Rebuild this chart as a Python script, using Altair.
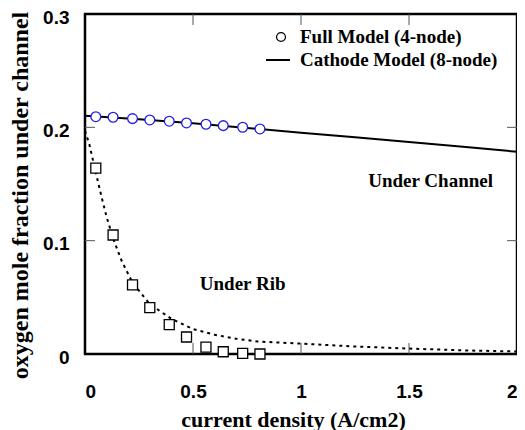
import altair as alt
import pandas as pd

# Full Model (4-node) under channel (circles)
full_x = [0.05, 0.13, 0.22, 0.30, 0.39, 0.47, 0.56, 0.64, 0.73, 0.81]
full_ch = [0.2094, 0.2089, 0.2077, 0.2065, 0.2054, 0.2039, 0.2027, 0.2015, 0.2001, 0.1986]
# Full Model (4-node) under rib (squares)
full_rib = [0.164, 0.105, 0.061, 0.041, 0.026, 0.015, 0.006, 0.002, 0.0005, 0.0]

# Cathode Model (8-node) under channel (solid)
cat_x = [0.0, 0.25, 0.5, 0.75, 1.0, 1.25, 1.5, 1.75, 2.0]
cat_ch = [0.2103, 0.2072, 0.2035, 0.1995, 0.1952, 0.1912, 0.1870, 0.1828, 0.1785]
# Cathode Model (8-node) under rib (dotted)
rib_x = [0.0, 0.02, 0.05, 0.08, 0.10, 0.13, 0.17, 0.22, 0.30, 0.40, 0.50, 0.60, 0.70,
         0.80, 1.0, 1.25, 1.5, 1.75, 2.0]
rib_y = [0.197, 0.185, 0.160, 0.136, 0.121, 0.102, 0.082, 0.063, 0.044, 0.031, 0.022,
         0.017, 0.0135, 0.011, 0.0092, 0.0066, 0.0048, 0.0032, 0.0022]

x_ticks = [0, 0.5, 1, 1.5, 2]
y_ticks = [0, 0.1, 0.2, 0.3]

W, H = 432, 340
SERIF = "Liberation Serif"
SANS = "Liberation Sans"

xs = alt.Scale(domain=[0, 2], nice=False)
ys = alt.Scale(domain=[0, 0.3], nice=False)

xaxis = alt.Axis(title="current density (A/cm2)", values=x_ticks, format="~g",
                 grid=False, ticks=False, domain=False, labelPadding=28,
                 labelFont=SANS, labelFontSize=19, labelFontWeight="bold", labelColor="black",
                 titleFont=SERIF, titleFontSize=22, titleFontWeight="bold", titleColor="black",
                 titlePadding=8, titleX=208)
yaxis = alt.Axis(title="oxygen mole fraction under channel", values=y_ticks, format="~g",
                 grid=False, ticks=False, domain=False, labelPadding=16, labelOffset=3,
                 labelFont=SANS, labelFontSize=19, labelFontWeight="bold", labelColor="black",
                 titleFont=SERIF, titleFontSize=24, titleFontWeight="bold", titleColor="black",
                 titlePadding=10, titleY=181)

df_full = pd.DataFrame({"x": full_x, "ch": full_ch, "rib": full_rib})
df_cat = pd.DataFrame({"x": cat_x, "y": cat_ch})
df_rib = pd.DataFrame({"x": rib_x, "y": rib_y})

line_ch = alt.Chart(df_cat).mark_line(color="black", strokeWidth=2).encode(
    x=alt.X("x:Q", scale=xs, axis=xaxis), y=alt.Y("y:Q", scale=ys, axis=yaxis))
line_rib = alt.Chart(df_rib).mark_line(color="black", strokeWidth=2, strokeDash=[3, 4]).encode(
    x=alt.X("x:Q", scale=xs), y=alt.Y("y:Q", scale=ys))
circles = alt.Chart(df_full).mark_point(shape="circle", size=95, filled=True, fill="white",
                                         stroke="#1f1fe6", strokeWidth=1.3, opacity=1).encode(
    x=alt.X("x:Q", scale=xs), y=alt.Y("ch:Q", scale=ys))
squares = alt.Chart(df_full).mark_point(shape="square", size=100, filled=True, fill="white",
                                         stroke="black", strokeWidth=1.3, opacity=1).encode(
    x=alt.X("x:Q", scale=xs), y=alt.Y("rib:Q", scale=ys))

# inward tick marks on all four sides
inner_x = pd.DataFrame({"t": [0.5, 1, 1.5]})
inner_y = pd.DataFrame({"t": [0.1, 0.2]})
tick_style = dict(color="#555555", strokeWidth=1)
tx_top = alt.Chart(inner_x).mark_rule(**tick_style).encode(
    x=alt.X("t:Q", scale=xs), y=alt.value(0), y2=alt.value(11))
tx_bot = alt.Chart(inner_x).mark_rule(**tick_style).encode(
    x=alt.X("t:Q", scale=xs), y=alt.value(H), y2=alt.value(H - 11))
ty_left = alt.Chart(inner_y).mark_rule(**tick_style).encode(
    y=alt.Y("t:Q", scale=ys), x=alt.value(0), x2=alt.value(10))
ty_right = alt.Chart(inner_y).mark_rule(**tick_style).encode(
    y=alt.Y("t:Q", scale=ys), x=alt.value(W), x2=alt.value(W - 10))

# annotations
ann = pd.DataFrame({"x": [1.60, 0.73], "y": [0.153, 0.062], "label": ["Under Channel", "Under Rib"]})
notes = alt.Chart(ann).mark_text(font=SERIF, fontSize=19, fontWeight="bold", color="black").encode(
    x=alt.X("x:Q", scale=xs), y=alt.Y("y:Q", scale=ys), text="label:N")

# legend
leg_text = pd.DataFrame({"label": ["Full Model (4-node)", "Cathode Model (8-node)"], "row": [0, 1]})
leg_t1 = alt.Chart(leg_text.iloc[[0]]).mark_text(font=SERIF, fontSize=19, fontWeight="bold",
                                                 align="left", baseline="middle", color="black").encode(
    x=alt.value(215), y=alt.value(23), text="label:N")
leg_t2 = alt.Chart(leg_text.iloc[[1]]).mark_text(font=SERIF, fontSize=19, fontWeight="bold",
                                                 align="left", baseline="middle", color="black").encode(
    x=alt.value(215), y=alt.value(46), text="label:N")
leg_c = alt.Chart(leg_text.iloc[[0]]).mark_point(shape="circle", size=80, stroke="black",
                                                  strokeWidth=1.2, opacity=1).encode(
    x=alt.value(196), y=alt.value(23))
leg_l = alt.Chart(leg_text.iloc[[1]]).mark_rule(color="black", strokeWidth=2).encode(
    x=alt.value(181), x2=alt.value(205), y=alt.value(46))

chart = alt.layer(tx_top, tx_bot, ty_left, ty_right, line_rib, line_ch, squares, circles,
                  notes, leg_c, leg_l, leg_t1, leg_t2).properties(
    width=W, height=H,
    background="white",
    autosize=alt.AutoSizeParams(type="none"),
    padding={"left": 77, "top": 6, "right": 0, "bottom": 76},
).configure_view(stroke="black", strokeWidth=2.5)

chart.save("out.html", embed_options={"renderer": "svg", "actions": False})
